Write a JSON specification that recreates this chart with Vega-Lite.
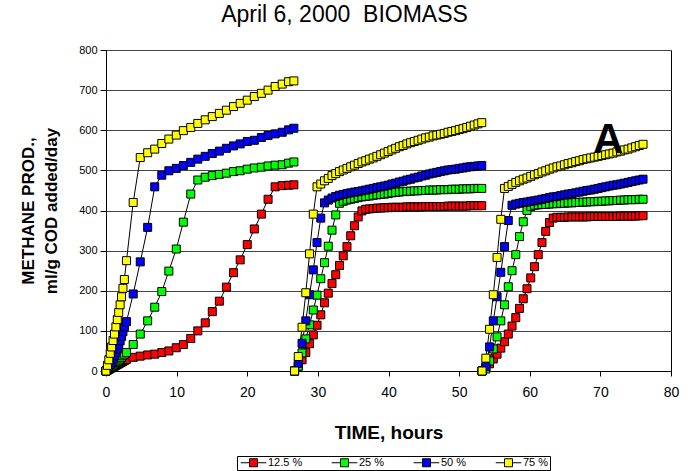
{
"$schema": "https://vega.github.io/schema/vega-lite/v6.json",
"width": 565, "height": 321,
"autosize": "none",
"padding": {"left": 106, "top": 50, "right": 21, "bottom": 100},
"background": "white",
"title": {"text": "April 6, 2000\u00a0 BIOMASS", "fontSize": 23, "font": "Liberation Sans", "fontWeight": "normal", "color": "black", "anchor": "middle", "dx": -44, "offset": 17},
"config": {"view": {"stroke": "black", "strokeWidth": 1}, "font": "Liberation Sans"},
"data": {"values": [
{"s":"12.5 %","g":1,"t":0,"v":0},{"s":"12.5 %","g":1,"t":0.2,"v":2},{"s":"12.5 %","g":1,"t":0.4,"v":4},{"s":"12.5 %","g":1,"t":0.6,"v":6},{"s":"12.5 %","g":1,"t":0.8,"v":8},{"s":"12.5 %","g":1,"t":1.0,"v":10},{"s":"12.5 %","g":1,"t":1.2,"v":12},{"s":"12.5 %","g":1,"t":1.4,"v":14},{"s":"12.5 %","g":1,"t":1.6,"v":16},{"s":"12.5 %","g":1,"t":1.8,"v":18},{"s":"12.5 %","g":1,"t":2.0,"v":20},{"s":"12.5 %","g":1,"t":2.2,"v":22},{"s":"12.5 %","g":1,"t":2.4,"v":24},{"s":"12.5 %","g":1,"t":2.6,"v":26},{"s":"12.5 %","g":1,"t":2.9,"v":29},{"s":"12.5 %","g":1,"t":3.85,"v":34},{"s":"12.5 %","g":1,"t":4.85,"v":37},{"s":"12.5 %","g":1,"t":5.9,"v":40},{"s":"12.5 %","g":1,"t":6.9,"v":42},{"s":"12.5 %","g":1,"t":7.9,"v":46},{"s":"12.5 %","g":1,"t":8.9,"v":50},{"s":"12.5 %","g":1,"t":9.95,"v":58},{"s":"12.5 %","g":1,"t":10.95,"v":66},{"s":"12.5 %","g":1,"t":12.0,"v":81},{"s":"12.5 %","g":1,"t":13.0,"v":100},{"s":"12.5 %","g":1,"t":14.05,"v":120},{"s":"12.5 %","g":1,"t":15.05,"v":148},{"s":"12.5 %","g":1,"t":16.05,"v":174},{"s":"12.5 %","g":1,"t":17.05,"v":209},{"s":"12.5 %","g":1,"t":18.05,"v":245},{"s":"12.5 %","g":1,"t":19.0,"v":277},{"s":"12.5 %","g":1,"t":20.0,"v":315},{"s":"12.5 %","g":1,"t":21.0,"v":354},{"s":"12.5 %","g":1,"t":22.0,"v":391},{"s":"12.5 %","g":1,"t":22.95,"v":428},{"s":"12.5 %","g":1,"t":23.95,"v":459},{"s":"12.5 %","g":1,"t":24.95,"v":462},{"s":"12.5 %","g":1,"t":25.85,"v":463},{"s":"12.5 %","g":1,"t":26.6,"v":464},
{"s":"12.5 %","g":2,"t":26.7,"v":0},{"s":"12.5 %","g":2,"t":27.23,"v":12},{"s":"12.5 %","g":2,"t":27.76,"v":28},{"s":"12.5 %","g":2,"t":28.29,"v":46},{"s":"12.5 %","g":2,"t":28.82,"v":68},{"s":"12.5 %","g":2,"t":29.35,"v":90},{"s":"12.5 %","g":2,"t":29.88,"v":114},{"s":"12.5 %","g":2,"t":30.41,"v":140},{"s":"12.5 %","g":2,"t":30.94,"v":170},{"s":"12.5 %","g":2,"t":31.47,"v":194},{"s":"12.5 %","g":2,"t":32.0,"v":218},{"s":"12.5 %","g":2,"t":32.53,"v":240},{"s":"12.5 %","g":2,"t":33.06,"v":263},{"s":"12.5 %","g":2,"t":33.59,"v":287},{"s":"12.5 %","g":2,"t":34.12,"v":310},{"s":"12.5 %","g":2,"t":34.65,"v":337},{"s":"12.5 %","g":2,"t":35.18,"v":362},{"s":"12.5 %","g":2,"t":35.71,"v":384},{"s":"12.5 %","g":2,"t":36.24,"v":399},{"s":"12.5 %","g":2,"t":36.77,"v":403},{"s":"12.5 %","g":2,"t":37.3,"v":404},{"s":"12.5 %","g":2,"t":37.83,"v":405},{"s":"12.5 %","g":2,"t":38.36,"v":406},{"s":"12.5 %","g":2,"t":38.89,"v":406},{"s":"12.5 %","g":2,"t":39.42,"v":407},{"s":"12.5 %","g":2,"t":39.95,"v":407},{"s":"12.5 %","g":2,"t":40.48,"v":408},{"s":"12.5 %","g":2,"t":41.01,"v":408},{"s":"12.5 %","g":2,"t":41.54,"v":408},{"s":"12.5 %","g":2,"t":42.07,"v":408},{"s":"12.5 %","g":2,"t":42.6,"v":409},{"s":"12.5 %","g":2,"t":43.13,"v":409},{"s":"12.5 %","g":2,"t":43.66,"v":409},{"s":"12.5 %","g":2,"t":44.19,"v":409},{"s":"12.5 %","g":2,"t":44.72,"v":409},{"s":"12.5 %","g":2,"t":45.25,"v":410},{"s":"12.5 %","g":2,"t":45.78,"v":410},{"s":"12.5 %","g":2,"t":46.31,"v":410},{"s":"12.5 %","g":2,"t":46.84,"v":410},{"s":"12.5 %","g":2,"t":47.37,"v":410},{"s":"12.5 %","g":2,"t":47.9,"v":410},{"s":"12.5 %","g":2,"t":48.43,"v":411},{"s":"12.5 %","g":2,"t":48.96,"v":411},{"s":"12.5 %","g":2,"t":49.49,"v":411},{"s":"12.5 %","g":2,"t":50.02,"v":411},{"s":"12.5 %","g":2,"t":50.55,"v":411},{"s":"12.5 %","g":2,"t":51.08,"v":411},{"s":"12.5 %","g":2,"t":51.61,"v":412},{"s":"12.5 %","g":2,"t":52.14,"v":412},{"s":"12.5 %","g":2,"t":52.67,"v":412},{"s":"12.5 %","g":2,"t":53.2,"v":412},
{"s":"12.5 %","g":3,"t":53.25,"v":0},{"s":"12.5 %","g":3,"t":53.78,"v":8},{"s":"12.5 %","g":3,"t":54.31,"v":18},{"s":"12.5 %","g":3,"t":54.84,"v":30},{"s":"12.5 %","g":3,"t":55.37,"v":42},{"s":"12.5 %","g":3,"t":55.9,"v":57},{"s":"12.5 %","g":3,"t":56.43,"v":73},{"s":"12.5 %","g":3,"t":56.96,"v":92},{"s":"12.5 %","g":3,"t":57.49,"v":112},{"s":"12.5 %","g":3,"t":58.02,"v":133},{"s":"12.5 %","g":3,"t":58.55,"v":156},{"s":"12.5 %","g":3,"t":59.08,"v":180},{"s":"12.5 %","g":3,"t":59.61,"v":205},{"s":"12.5 %","g":3,"t":60.14,"v":232},{"s":"12.5 %","g":3,"t":60.67,"v":260},{"s":"12.5 %","g":3,"t":61.2,"v":290},{"s":"12.5 %","g":3,"t":61.73,"v":320},{"s":"12.5 %","g":3,"t":62.26,"v":348},{"s":"12.5 %","g":3,"t":62.79,"v":370},{"s":"12.5 %","g":3,"t":63.32,"v":381},{"s":"12.5 %","g":3,"t":63.85,"v":383},{"s":"12.5 %","g":3,"t":64.38,"v":383},{"s":"12.5 %","g":3,"t":64.91,"v":383},{"s":"12.5 %","g":3,"t":65.44,"v":384},{"s":"12.5 %","g":3,"t":65.97,"v":384},{"s":"12.5 %","g":3,"t":66.5,"v":384},{"s":"12.5 %","g":3,"t":67.03,"v":384},{"s":"12.5 %","g":3,"t":67.56,"v":384},{"s":"12.5 %","g":3,"t":68.09,"v":384},{"s":"12.5 %","g":3,"t":68.62,"v":385},{"s":"12.5 %","g":3,"t":69.15,"v":385},{"s":"12.5 %","g":3,"t":69.68,"v":385},{"s":"12.5 %","g":3,"t":70.21,"v":385},{"s":"12.5 %","g":3,"t":70.74,"v":385},{"s":"12.5 %","g":3,"t":71.27,"v":385},{"s":"12.5 %","g":3,"t":71.8,"v":385},{"s":"12.5 %","g":3,"t":72.33,"v":385},{"s":"12.5 %","g":3,"t":72.86,"v":386},{"s":"12.5 %","g":3,"t":73.39,"v":386},{"s":"12.5 %","g":3,"t":73.92,"v":386},{"s":"12.5 %","g":3,"t":74.45,"v":386},{"s":"12.5 %","g":3,"t":74.98,"v":386},{"s":"12.5 %","g":3,"t":75.51,"v":387},{"s":"12.5 %","g":3,"t":76.04,"v":387},
{"s":"25 %","g":1,"t":0,"v":0},{"s":"25 %","g":1,"t":0.2,"v":3},{"s":"25 %","g":1,"t":0.4,"v":6},{"s":"25 %","g":1,"t":0.6,"v":9},{"s":"25 %","g":1,"t":0.8,"v":12},{"s":"25 %","g":1,"t":1.0,"v":15},{"s":"25 %","g":1,"t":1.2,"v":18},{"s":"25 %","g":1,"t":1.4,"v":21},{"s":"25 %","g":1,"t":1.6,"v":24},{"s":"25 %","g":1,"t":1.8,"v":27},{"s":"25 %","g":1,"t":2.0,"v":30},{"s":"25 %","g":1,"t":2.2,"v":34},{"s":"25 %","g":1,"t":2.4,"v":38},{"s":"25 %","g":1,"t":2.6,"v":42},{"s":"25 %","g":1,"t":2.9,"v":46},{"s":"25 %","g":1,"t":3.85,"v":66},{"s":"25 %","g":1,"t":4.85,"v":92},{"s":"25 %","g":1,"t":5.9,"v":125},{"s":"25 %","g":1,"t":6.9,"v":159},{"s":"25 %","g":1,"t":7.9,"v":198},{"s":"25 %","g":1,"t":8.9,"v":249},{"s":"25 %","g":1,"t":9.95,"v":304},{"s":"25 %","g":1,"t":10.95,"v":371},{"s":"25 %","g":1,"t":12.0,"v":441},{"s":"25 %","g":1,"t":13.0,"v":476},{"s":"25 %","g":1,"t":14.05,"v":483},{"s":"25 %","g":1,"t":15.05,"v":487},{"s":"25 %","g":1,"t":16.05,"v":490},{"s":"25 %","g":1,"t":17.05,"v":493},{"s":"25 %","g":1,"t":18.05,"v":497},{"s":"25 %","g":1,"t":19.0,"v":499},{"s":"25 %","g":1,"t":20.0,"v":503},{"s":"25 %","g":1,"t":21.0,"v":506},{"s":"25 %","g":1,"t":22.0,"v":508},{"s":"25 %","g":1,"t":22.95,"v":511},{"s":"25 %","g":1,"t":23.95,"v":513},{"s":"25 %","g":1,"t":24.95,"v":514},{"s":"25 %","g":1,"t":25.85,"v":518},{"s":"25 %","g":1,"t":26.6,"v":521},
{"s":"25 %","g":2,"t":26.7,"v":0},{"s":"25 %","g":2,"t":27.23,"v":12},{"s":"25 %","g":2,"t":27.76,"v":45},{"s":"25 %","g":2,"t":28.29,"v":80},{"s":"25 %","g":2,"t":28.82,"v":115},{"s":"25 %","g":2,"t":29.35,"v":152},{"s":"25 %","g":2,"t":29.88,"v":189},{"s":"25 %","g":2,"t":30.41,"v":230},{"s":"25 %","g":2,"t":30.94,"v":270},{"s":"25 %","g":2,"t":31.47,"v":311},{"s":"25 %","g":2,"t":32.0,"v":351},{"s":"25 %","g":2,"t":32.53,"v":389},{"s":"25 %","g":2,"t":33.06,"v":418},{"s":"25 %","g":2,"t":33.59,"v":423},{"s":"25 %","g":2,"t":34.12,"v":426},{"s":"25 %","g":2,"t":34.65,"v":428},{"s":"25 %","g":2,"t":35.18,"v":430},{"s":"25 %","g":2,"t":35.71,"v":432},{"s":"25 %","g":2,"t":36.24,"v":434},{"s":"25 %","g":2,"t":36.77,"v":435},{"s":"25 %","g":2,"t":37.3,"v":436},{"s":"25 %","g":2,"t":37.83,"v":438},{"s":"25 %","g":2,"t":38.36,"v":439},{"s":"25 %","g":2,"t":38.89,"v":440},{"s":"25 %","g":2,"t":39.42,"v":441},{"s":"25 %","g":2,"t":39.95,"v":442},{"s":"25 %","g":2,"t":40.48,"v":444},{"s":"25 %","g":2,"t":41.01,"v":445},{"s":"25 %","g":2,"t":41.54,"v":446},{"s":"25 %","g":2,"t":42.07,"v":447},{"s":"25 %","g":2,"t":42.6,"v":448},{"s":"25 %","g":2,"t":43.13,"v":448},{"s":"25 %","g":2,"t":43.66,"v":449},{"s":"25 %","g":2,"t":44.19,"v":449},{"s":"25 %","g":2,"t":44.72,"v":450},{"s":"25 %","g":2,"t":45.25,"v":450},{"s":"25 %","g":2,"t":45.78,"v":451},{"s":"25 %","g":2,"t":46.31,"v":451},{"s":"25 %","g":2,"t":46.84,"v":451},{"s":"25 %","g":2,"t":47.37,"v":452},{"s":"25 %","g":2,"t":47.9,"v":452},{"s":"25 %","g":2,"t":48.43,"v":452},{"s":"25 %","g":2,"t":48.96,"v":453},{"s":"25 %","g":2,"t":49.49,"v":453},{"s":"25 %","g":2,"t":50.02,"v":453},{"s":"25 %","g":2,"t":50.55,"v":454},{"s":"25 %","g":2,"t":51.08,"v":454},{"s":"25 %","g":2,"t":51.61,"v":454},{"s":"25 %","g":2,"t":52.14,"v":455},{"s":"25 %","g":2,"t":52.67,"v":455},{"s":"25 %","g":2,"t":53.2,"v":455},
{"s":"25 %","g":3,"t":53.25,"v":0},{"s":"25 %","g":3,"t":53.78,"v":5},{"s":"25 %","g":3,"t":54.31,"v":25},{"s":"25 %","g":3,"t":54.84,"v":55},{"s":"25 %","g":3,"t":55.37,"v":85},{"s":"25 %","g":3,"t":55.9,"v":125},{"s":"25 %","g":3,"t":56.43,"v":165},{"s":"25 %","g":3,"t":56.96,"v":210},{"s":"25 %","g":3,"t":57.49,"v":250},{"s":"25 %","g":3,"t":58.02,"v":290},{"s":"25 %","g":3,"t":58.55,"v":335},{"s":"25 %","g":3,"t":59.08,"v":372},{"s":"25 %","g":3,"t":59.61,"v":400},{"s":"25 %","g":3,"t":60.14,"v":410},{"s":"25 %","g":3,"t":60.67,"v":413},{"s":"25 %","g":3,"t":61.2,"v":414},{"s":"25 %","g":3,"t":61.73,"v":415},{"s":"25 %","g":3,"t":62.26,"v":415},{"s":"25 %","g":3,"t":62.79,"v":416},{"s":"25 %","g":3,"t":63.32,"v":417},{"s":"25 %","g":3,"t":63.85,"v":417},{"s":"25 %","g":3,"t":64.38,"v":418},{"s":"25 %","g":3,"t":64.91,"v":418},{"s":"25 %","g":3,"t":65.44,"v":419},{"s":"25 %","g":3,"t":65.97,"v":419},{"s":"25 %","g":3,"t":66.5,"v":420},{"s":"25 %","g":3,"t":67.03,"v":420},{"s":"25 %","g":3,"t":67.56,"v":421},{"s":"25 %","g":3,"t":68.09,"v":421},{"s":"25 %","g":3,"t":68.62,"v":422},{"s":"25 %","g":3,"t":69.15,"v":422},{"s":"25 %","g":3,"t":69.68,"v":423},{"s":"25 %","g":3,"t":70.21,"v":423},{"s":"25 %","g":3,"t":70.74,"v":424},{"s":"25 %","g":3,"t":71.27,"v":424},{"s":"25 %","g":3,"t":71.8,"v":425},{"s":"25 %","g":3,"t":72.33,"v":425},{"s":"25 %","g":3,"t":72.86,"v":426},{"s":"25 %","g":3,"t":73.39,"v":426},{"s":"25 %","g":3,"t":73.92,"v":427},{"s":"25 %","g":3,"t":74.45,"v":427},{"s":"25 %","g":3,"t":74.98,"v":427},{"s":"25 %","g":3,"t":75.51,"v":428},{"s":"25 %","g":3,"t":76.04,"v":428},
{"s":"50 %","g":1,"t":0,"v":0},{"s":"50 %","g":1,"t":0.2,"v":5},{"s":"50 %","g":1,"t":0.4,"v":10},{"s":"50 %","g":1,"t":0.6,"v":16},{"s":"50 %","g":1,"t":0.8,"v":23},{"s":"50 %","g":1,"t":1.0,"v":30},{"s":"50 %","g":1,"t":1.2,"v":38},{"s":"50 %","g":1,"t":1.4,"v":46},{"s":"50 %","g":1,"t":1.6,"v":55},{"s":"50 %","g":1,"t":1.8,"v":65},{"s":"50 %","g":1,"t":2.0,"v":75},{"s":"50 %","g":1,"t":2.2,"v":86},{"s":"50 %","g":1,"t":2.4,"v":98},{"s":"50 %","g":1,"t":2.6,"v":110},{"s":"50 %","g":1,"t":2.9,"v":123},{"s":"50 %","g":1,"t":3.85,"v":192},{"s":"50 %","g":1,"t":4.85,"v":272},{"s":"50 %","g":1,"t":5.9,"v":358},{"s":"50 %","g":1,"t":6.9,"v":459},{"s":"50 %","g":1,"t":7.9,"v":488},{"s":"50 %","g":1,"t":8.9,"v":499},{"s":"50 %","g":1,"t":9.95,"v":505},{"s":"50 %","g":1,"t":10.95,"v":512},{"s":"50 %","g":1,"t":12.0,"v":520},{"s":"50 %","g":1,"t":13.0,"v":528},{"s":"50 %","g":1,"t":14.05,"v":535},{"s":"50 %","g":1,"t":15.05,"v":542},{"s":"50 %","g":1,"t":16.05,"v":548},{"s":"50 %","g":1,"t":17.05,"v":555},{"s":"50 %","g":1,"t":18.05,"v":561},{"s":"50 %","g":1,"t":19.0,"v":566},{"s":"50 %","g":1,"t":20.0,"v":572},{"s":"50 %","g":1,"t":21.0,"v":575},{"s":"50 %","g":1,"t":22.0,"v":582},{"s":"50 %","g":1,"t":22.95,"v":587},{"s":"50 %","g":1,"t":23.95,"v":591},{"s":"50 %","g":1,"t":24.95,"v":595},{"s":"50 %","g":1,"t":25.85,"v":601},{"s":"50 %","g":1,"t":26.6,"v":605},
{"s":"50 %","g":2,"t":26.7,"v":0},{"s":"50 %","g":2,"t":27.23,"v":19},{"s":"50 %","g":2,"t":27.76,"v":69},{"s":"50 %","g":2,"t":28.29,"v":125},{"s":"50 %","g":2,"t":28.82,"v":190},{"s":"50 %","g":2,"t":29.35,"v":252},{"s":"50 %","g":2,"t":29.88,"v":320},{"s":"50 %","g":2,"t":30.41,"v":381},{"s":"50 %","g":2,"t":30.94,"v":419},{"s":"50 %","g":2,"t":31.47,"v":426},{"s":"50 %","g":2,"t":32.0,"v":431},{"s":"50 %","g":2,"t":32.53,"v":435},{"s":"50 %","g":2,"t":33.06,"v":438},{"s":"50 %","g":2,"t":33.59,"v":440},{"s":"50 %","g":2,"t":34.12,"v":442},{"s":"50 %","g":2,"t":34.65,"v":444},{"s":"50 %","g":2,"t":35.18,"v":446},{"s":"50 %","g":2,"t":35.71,"v":447},{"s":"50 %","g":2,"t":36.24,"v":449},{"s":"50 %","g":2,"t":36.77,"v":451},{"s":"50 %","g":2,"t":37.3,"v":453},{"s":"50 %","g":2,"t":37.83,"v":455},{"s":"50 %","g":2,"t":38.36,"v":457},{"s":"50 %","g":2,"t":38.89,"v":459},{"s":"50 %","g":2,"t":39.42,"v":461},{"s":"50 %","g":2,"t":39.95,"v":463},{"s":"50 %","g":2,"t":40.48,"v":466},{"s":"50 %","g":2,"t":41.01,"v":468},{"s":"50 %","g":2,"t":41.54,"v":471},{"s":"50 %","g":2,"t":42.07,"v":473},{"s":"50 %","g":2,"t":42.6,"v":476},{"s":"50 %","g":2,"t":43.13,"v":478},{"s":"50 %","g":2,"t":43.66,"v":481},{"s":"50 %","g":2,"t":44.19,"v":483},{"s":"50 %","g":2,"t":44.72,"v":486},{"s":"50 %","g":2,"t":45.25,"v":488},{"s":"50 %","g":2,"t":45.78,"v":491},{"s":"50 %","g":2,"t":46.31,"v":493},{"s":"50 %","g":2,"t":46.84,"v":495},{"s":"50 %","g":2,"t":47.37,"v":497},{"s":"50 %","g":2,"t":47.9,"v":499},{"s":"50 %","g":2,"t":48.43,"v":501},{"s":"50 %","g":2,"t":48.96,"v":502},{"s":"50 %","g":2,"t":49.49,"v":503},{"s":"50 %","g":2,"t":50.02,"v":505},{"s":"50 %","g":2,"t":50.55,"v":506},{"s":"50 %","g":2,"t":51.08,"v":508},{"s":"50 %","g":2,"t":51.61,"v":509},{"s":"50 %","g":2,"t":52.14,"v":510},{"s":"50 %","g":2,"t":52.67,"v":511},{"s":"50 %","g":2,"t":53.2,"v":512},
{"s":"50 %","g":3,"t":53.25,"v":0},{"s":"50 %","g":3,"t":53.78,"v":11},{"s":"50 %","g":3,"t":54.31,"v":60},{"s":"50 %","g":3,"t":54.84,"v":125},{"s":"50 %","g":3,"t":55.37,"v":185},{"s":"50 %","g":3,"t":55.9,"v":246},{"s":"50 %","g":3,"t":56.43,"v":310},{"s":"50 %","g":3,"t":56.96,"v":375},{"s":"50 %","g":3,"t":57.49,"v":413},{"s":"50 %","g":3,"t":58.02,"v":416},{"s":"50 %","g":3,"t":58.55,"v":418},{"s":"50 %","g":3,"t":59.08,"v":420},{"s":"50 %","g":3,"t":59.61,"v":421},{"s":"50 %","g":3,"t":60.14,"v":423},{"s":"50 %","g":3,"t":60.67,"v":424},{"s":"50 %","g":3,"t":61.2,"v":426},{"s":"50 %","g":3,"t":61.73,"v":428},{"s":"50 %","g":3,"t":62.26,"v":430},{"s":"50 %","g":3,"t":62.79,"v":432},{"s":"50 %","g":3,"t":63.32,"v":434},{"s":"50 %","g":3,"t":63.85,"v":435},{"s":"50 %","g":3,"t":64.38,"v":437},{"s":"50 %","g":3,"t":64.91,"v":439},{"s":"50 %","g":3,"t":65.44,"v":441},{"s":"50 %","g":3,"t":65.97,"v":442},{"s":"50 %","g":3,"t":66.5,"v":444},{"s":"50 %","g":3,"t":67.03,"v":446},{"s":"50 %","g":3,"t":67.56,"v":448},{"s":"50 %","g":3,"t":68.09,"v":450},{"s":"50 %","g":3,"t":68.62,"v":451},{"s":"50 %","g":3,"t":69.15,"v":453},{"s":"50 %","g":3,"t":69.68,"v":455},{"s":"50 %","g":3,"t":70.21,"v":457},{"s":"50 %","g":3,"t":70.74,"v":459},{"s":"50 %","g":3,"t":71.27,"v":461},{"s":"50 %","g":3,"t":71.8,"v":463},{"s":"50 %","g":3,"t":72.33,"v":464},{"s":"50 %","g":3,"t":72.86,"v":466},{"s":"50 %","g":3,"t":73.39,"v":468},{"s":"50 %","g":3,"t":73.92,"v":470},{"s":"50 %","g":3,"t":74.45,"v":472},{"s":"50 %","g":3,"t":74.98,"v":474},{"s":"50 %","g":3,"t":75.51,"v":476},{"s":"50 %","g":3,"t":76.04,"v":478},
{"s":"75 %","g":1,"t":0,"v":0},{"s":"75 %","g":1,"t":0.2,"v":14},{"s":"75 %","g":1,"t":0.4,"v":28},{"s":"75 %","g":1,"t":0.6,"v":44},{"s":"75 %","g":1,"t":0.8,"v":60},{"s":"75 %","g":1,"t":1.0,"v":76},{"s":"75 %","g":1,"t":1.2,"v":92},{"s":"75 %","g":1,"t":1.4,"v":110},{"s":"75 %","g":1,"t":1.6,"v":128},{"s":"75 %","g":1,"t":1.8,"v":146},{"s":"75 %","g":1,"t":2.0,"v":165},{"s":"75 %","g":1,"t":2.2,"v":185},{"s":"75 %","g":1,"t":2.4,"v":206},{"s":"75 %","g":1,"t":2.6,"v":228},{"s":"75 %","g":1,"t":2.9,"v":275},{"s":"75 %","g":1,"t":3.85,"v":420},{"s":"75 %","g":1,"t":4.85,"v":532},{"s":"75 %","g":1,"t":5.9,"v":544},{"s":"75 %","g":1,"t":6.9,"v":553},{"s":"75 %","g":1,"t":7.9,"v":567},{"s":"75 %","g":1,"t":8.9,"v":578},{"s":"75 %","g":1,"t":9.95,"v":588},{"s":"75 %","g":1,"t":10.95,"v":599},{"s":"75 %","g":1,"t":12.0,"v":607},{"s":"75 %","g":1,"t":13.0,"v":617},{"s":"75 %","g":1,"t":14.05,"v":626},{"s":"75 %","g":1,"t":15.05,"v":634},{"s":"75 %","g":1,"t":16.05,"v":642},{"s":"75 %","g":1,"t":17.05,"v":650},{"s":"75 %","g":1,"t":18.05,"v":659},{"s":"75 %","g":1,"t":19.0,"v":667},{"s":"75 %","g":1,"t":20.0,"v":675},{"s":"75 %","g":1,"t":21.0,"v":684},{"s":"75 %","g":1,"t":22.0,"v":692},{"s":"75 %","g":1,"t":22.95,"v":700},{"s":"75 %","g":1,"t":23.95,"v":709},{"s":"75 %","g":1,"t":24.95,"v":715},{"s":"75 %","g":1,"t":25.85,"v":721},{"s":"75 %","g":1,"t":26.6,"v":723},
{"s":"75 %","g":2,"t":26.7,"v":0},{"s":"75 %","g":2,"t":27.23,"v":36},{"s":"75 %","g":2,"t":27.76,"v":109},{"s":"75 %","g":2,"t":28.29,"v":195},{"s":"75 %","g":2,"t":28.82,"v":292},{"s":"75 %","g":2,"t":29.35,"v":391},{"s":"75 %","g":2,"t":29.88,"v":459},{"s":"75 %","g":2,"t":30.41,"v":466},{"s":"75 %","g":2,"t":30.94,"v":474},{"s":"75 %","g":2,"t":31.47,"v":480},{"s":"75 %","g":2,"t":32.0,"v":487},{"s":"75 %","g":2,"t":32.53,"v":492},{"s":"75 %","g":2,"t":33.06,"v":497},{"s":"75 %","g":2,"t":33.59,"v":501},{"s":"75 %","g":2,"t":34.12,"v":505},{"s":"75 %","g":2,"t":34.65,"v":509},{"s":"75 %","g":2,"t":35.18,"v":513},{"s":"75 %","g":2,"t":35.71,"v":517},{"s":"75 %","g":2,"t":36.24,"v":521},{"s":"75 %","g":2,"t":36.77,"v":524},{"s":"75 %","g":2,"t":37.3,"v":528},{"s":"75 %","g":2,"t":37.83,"v":531},{"s":"75 %","g":2,"t":38.36,"v":535},{"s":"75 %","g":2,"t":38.89,"v":539},{"s":"75 %","g":2,"t":39.42,"v":543},{"s":"75 %","g":2,"t":39.95,"v":547},{"s":"75 %","g":2,"t":40.48,"v":551},{"s":"75 %","g":2,"t":41.01,"v":555},{"s":"75 %","g":2,"t":41.54,"v":559},{"s":"75 %","g":2,"t":42.07,"v":562},{"s":"75 %","g":2,"t":42.6,"v":566},{"s":"75 %","g":2,"t":43.13,"v":569},{"s":"75 %","g":2,"t":43.66,"v":572},{"s":"75 %","g":2,"t":44.19,"v":575},{"s":"75 %","g":2,"t":44.72,"v":578},{"s":"75 %","g":2,"t":45.25,"v":581},{"s":"75 %","g":2,"t":45.78,"v":583},{"s":"75 %","g":2,"t":46.31,"v":586},{"s":"75 %","g":2,"t":46.84,"v":588},{"s":"75 %","g":2,"t":47.37,"v":590},{"s":"75 %","g":2,"t":47.9,"v":592},{"s":"75 %","g":2,"t":48.43,"v":595},{"s":"75 %","g":2,"t":48.96,"v":597},{"s":"75 %","g":2,"t":49.49,"v":599},{"s":"75 %","g":2,"t":50.02,"v":602},{"s":"75 %","g":2,"t":50.55,"v":604},{"s":"75 %","g":2,"t":51.08,"v":607},{"s":"75 %","g":2,"t":51.61,"v":610},{"s":"75 %","g":2,"t":52.14,"v":613},{"s":"75 %","g":2,"t":52.67,"v":616},{"s":"75 %","g":2,"t":53.2,"v":619},
{"s":"75 %","g":3,"t":53.25,"v":0},{"s":"75 %","g":3,"t":53.78,"v":32},{"s":"75 %","g":3,"t":54.31,"v":104},{"s":"75 %","g":3,"t":54.84,"v":190},{"s":"75 %","g":3,"t":55.37,"v":283},{"s":"75 %","g":3,"t":55.9,"v":378},{"s":"75 %","g":3,"t":56.43,"v":455},{"s":"75 %","g":3,"t":56.96,"v":460},{"s":"75 %","g":3,"t":57.49,"v":465},{"s":"75 %","g":3,"t":58.02,"v":470},{"s":"75 %","g":3,"t":58.55,"v":474},{"s":"75 %","g":3,"t":59.08,"v":478},{"s":"75 %","g":3,"t":59.61,"v":481},{"s":"75 %","g":3,"t":60.14,"v":485},{"s":"75 %","g":3,"t":60.67,"v":489},{"s":"75 %","g":3,"t":61.2,"v":492},{"s":"75 %","g":3,"t":61.73,"v":496},{"s":"75 %","g":3,"t":62.26,"v":499},{"s":"75 %","g":3,"t":62.79,"v":503},{"s":"75 %","g":3,"t":63.32,"v":506},{"s":"75 %","g":3,"t":63.85,"v":509},{"s":"75 %","g":3,"t":64.38,"v":511},{"s":"75 %","g":3,"t":64.91,"v":514},{"s":"75 %","g":3,"t":65.44,"v":517},{"s":"75 %","g":3,"t":65.97,"v":519},{"s":"75 %","g":3,"t":66.5,"v":522},{"s":"75 %","g":3,"t":67.03,"v":524},{"s":"75 %","g":3,"t":67.56,"v":527},{"s":"75 %","g":3,"t":68.09,"v":529},{"s":"75 %","g":3,"t":68.62,"v":531},{"s":"75 %","g":3,"t":69.15,"v":533},{"s":"75 %","g":3,"t":69.68,"v":535},{"s":"75 %","g":3,"t":70.21,"v":537},{"s":"75 %","g":3,"t":70.74,"v":539},{"s":"75 %","g":3,"t":71.27,"v":541},{"s":"75 %","g":3,"t":71.8,"v":543},{"s":"75 %","g":3,"t":72.33,"v":546},{"s":"75 %","g":3,"t":72.86,"v":548},{"s":"75 %","g":3,"t":73.39,"v":551},{"s":"75 %","g":3,"t":73.92,"v":553},{"s":"75 %","g":3,"t":74.45,"v":556},{"s":"75 %","g":3,"t":74.98,"v":559},{"s":"75 %","g":3,"t":75.51,"v":562},{"s":"75 %","g":3,"t":76.04,"v":565}
]},
"encoding": {
"x": {"field": "t", "type": "quantitative", "scale": {"domain": [0, 80], "nice": false},
 "axis": {"values": [0,10,20,30,40,50,60,70,80], "grid": false, "title": "TIME, hours", "titleFontSize": 19, "titleFontWeight": "bold", "titleColor": "black", "labelFontSize": 14, "labelColor": "black", "domainColor": "black", "tickColor": "black", "tickSize": 5, "labelPadding": 9, "titlePadding": 24, "labelFlush": false}},
"y": {"field": "v", "type": "quantitative", "scale": {"domain": [0, 800], "nice": false},
 "axis": {"values": [0,100,200,300,400,500,600,700,800], "grid": true, "gridColor": "#444", "gridWidth": 1, "title": ["METHANE PROD.,", "ml/g COD added/day"], "titleFontSize": 17, "titleFontWeight": "bold", "titleColor": "black", "titleLineHeight": 23, "labelFontSize": 11, "labelColor": "black", "domainColor": "black", "tickColor": "black", "tickSize": 6, "labelPadding": 3, "titlePadding": 18}}
},
"layer": [
 {"mark": {"type": "line", "color": "black", "strokeWidth": 1},
  "encoding": {"detail": [{"field": "s"}, {"field": "g"}]}},
 {"mark": {"type": "point", "shape": "square", "size": 64, "filled": true, "opacity": 1, "stroke": "black", "strokeWidth": 1},
  "encoding": {"fill": {"field": "s", "type": "nominal",
   "scale": {"domain": ["12.5 %", "25 %", "50 %", "75 %"], "range": ["#ff0000", "#00ff00", "#0000ff", "#ffff00"]},
   "legend": {"orient": "none", "legendX": 131, "legendY": 406, "direction": "horizontal", "title": null,
     "symbolType": "M-3.2,0H-1M1,0H3.2M-1,-1H1V1H-1Z", "symbolSize": 64, "symbolStrokeColor": "black", "symbolStrokeWidth": 1,
     "labelFontSize": 11, "labelColor": "black", "strokeColor": "black", "fillColor": "white", "padding": 1, "columnPadding": 26, "symbolOffset": 10, "labelOffset": 9}}}},
 {"data": {"values": [{"label": "A", "t": 71.1, "v": 543}]},
  "mark": {"type": "text", "fontSize": 42, "fontWeight": "bold", "font": "Liberation Sans", "color": "black", "align": "center", "baseline": "alphabetic"},
  "encoding": {"text": {"field": "label"}}}
]
}
